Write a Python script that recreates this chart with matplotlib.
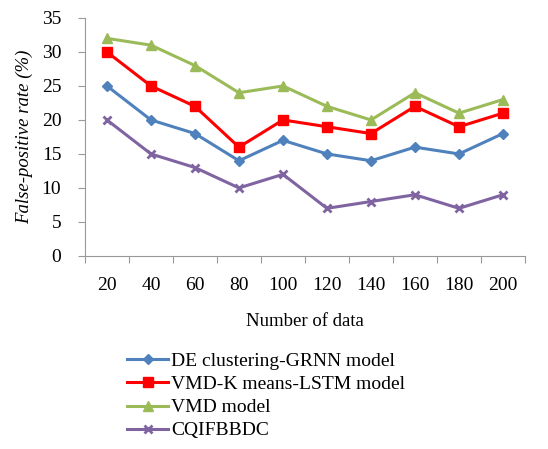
import numpy as np
import matplotlib
matplotlib.use('Agg')
import matplotlib.pyplot as plt
from matplotlib.ticker import FixedLocator

plt.rcParams['font.family'] = ['Liberation Serif', 'DejaVu Serif']

# datos
categorias = ['20', '40', '60', '80', '100', '120', '140', '160', '180', '200']
de_grnn = [25, 20, 18, 14, 17, 15, 14, 16, 15, 18]
vmd_lstm = [30, 25, 22, 16, 20, 19, 18, 22, 19, 21]
vmd = [32, 31, 28, 24, 25, 22, 20, 24, 21, 23]
cqifbbdc = [20, 15, 13, 10, 12, 7, 8, 9, 7, 9]

fig = plt.figure(figsize=(5.48, 4.49), dpi=100)
ax = fig.add_axes([0.155, 0.430, 0.803, 0.530])

x = np.arange(len(categorias))
l1, = ax.plot(x, de_grnn, color='#4F81BD', marker='D', markersize=5, lw=2.2, label='DE clustering-GRNN model')
l2, = ax.plot(x, vmd_lstm, color='#FF0000', marker='s', markersize=7, lw=2.2, label='VMD-K means-LSTM model')
l3, = ax.plot(x, vmd, color='#9BBB59', marker='^', markersize=7, lw=2.2, label='VMD model')
l4, = ax.plot(x, cqifbbdc, color='#8064A2', marker='x', markersize=6, mew=2, lw=2.2, label='CQIFBBDC')

ax.set_xlim(-0.5, len(categorias) - 0.5)
ax.set_ylim(0, 35)
ax.set_yticks(range(0, 36, 5))

# marcas entre categorias, etiquetas en el centro
ax.xaxis.set_major_locator(FixedLocator(np.arange(-0.5, len(categorias), 1.0)))
ax.set_xticklabels([''] * (len(categorias) + 1))
ax.xaxis.set_minor_locator(FixedLocator(x))
ax.set_xticklabels(categorias, minor=True)
ax.tick_params(axis='x', which='minor', length=0, pad=15, labelsize=14)
ax.tick_params(axis='x', which='major', length=5, color='#999999', direction='out')
ax.tick_params(axis='y', length=5, color='#999999', labelsize=14, pad=12)

for s in ['top', 'right']:
    ax.spines[s].set_visible(False)
for s in ['left', 'bottom']:
    ax.spines[s].set_color('#999999')

ax.set_xlabel('Number of data', fontsize=13.5, labelpad=14)
ax.set_ylabel('False-positive rate (%)', fontsize=13.5, style='italic', labelpad=6)

fig.legend(handles=[l1, l2, l3, l4], loc='upper left', bbox_to_anchor=(0.218, 0.232),
           frameon=False, fontsize=14, handlelength=2.1, handletextpad=0.15,
           labelspacing=0.28, borderaxespad=0)

fig.savefig('out.png', dpi=100)
